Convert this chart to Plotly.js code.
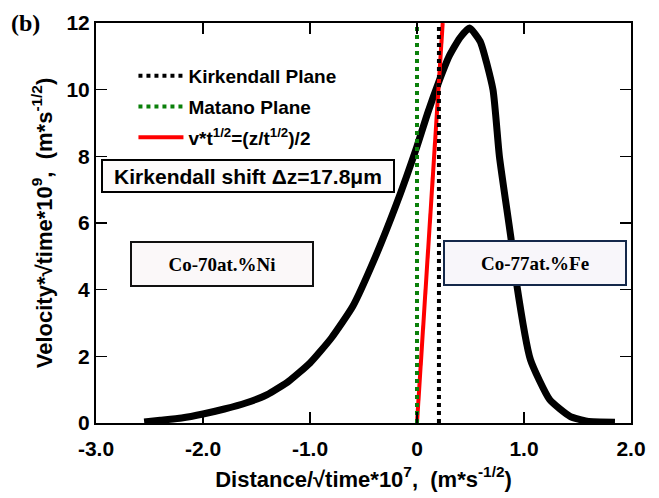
<!DOCTYPE html>
<html>
<head>
<meta charset="utf-8">
<script src="https://cdn.plot.ly/plotly-3.0.1.min.js"></script>
<style>html,body{margin:0;padding:0;background:#fff;}#chart{width:659px;height:498px;}</style>
</head>
<body>
<div id="chart"></div>
<script>
// Velocity curve (Distance/sqrt(time)*1e7 vs Velocity*sqrt(time)*1e9)
const curveX = [-2.55, -2.4, -2.2, -2.0, -1.8, -1.6, -1.4, -1.2, -1.0, -0.8, -0.6, -0.4, -0.2, 0.0, 0.1, 0.2, 0.3, 0.4, 0.49, 0.59, 0.71, 0.77, 0.88, 0.93, 1.06, 1.24, 1.43, 1.59, 1.85];
const curveY = [0.03, 0.08, 0.15, 0.27, 0.42, 0.6, 0.85, 1.25, 1.8, 2.55, 3.5, 4.9, 6.5, 8.3, 9.3, 10.2, 11.0, 11.55, 11.85, 11.45, 10.0, 8.0, 5.5, 4.2, 1.9, 0.7, 0.2, 0.05, 0.02];
// Planes
const kirkendallX = [0.205, 0.205];
const kirkendallY = [0, 12];
const matanoX = [0, 0];
const matanoY = [0, 12];
// v*t^1/2 = (z/t^1/2)/2 line
const halfLineX = [0, 0.24];
const halfLineY = [0, 12];
// Axis ticks
const xTickVals = [-3, -2, -1, 0, 1, 2];
const xTickText = ['-3.0', '-2.0', '-1.0', '0', '1.0', '2.0'];
const yTickVals = [0, 2, 4, 6, 8, 10, 12];
// Labels
const legendNames = ['Kirkendall Plane', 'Matano Plane', 'v*t<sup>1/2</sup>=(z/t<sup>1/2</sup>)/2'];
const shiftLabel = 'Kirkendall shift \u0394z=17.8\u03bcm';
const leftAlloy = 'Co-70at.%Ni';
const rightAlloy = 'Co-77at.%Fe';

const sans = 'Liberation Sans, Arial, sans-serif';
const serif = 'Liberation Serif, Times New Roman, serif';

const traces = [
  {x: curveX, y: curveY, mode: 'lines', line: {color: '#000', width: 7, shape: 'spline', smoothing: 0.5}, showlegend: false, hoverinfo: 'skip'},
  {x: halfLineX, y: halfLineY, mode: 'lines', name: legendNames[2], legendgroup: 'c', legendrank: 3,
   line: {color: '#ff0000', width: 4}},
  {x: matanoX, y: matanoY, mode: 'lines', name: legendNames[1], legendgroup: 'b', legendrank: 2,
   line: {color: '#0a800a', width: 4, dash: 'dot'}},
  {x: kirkendallX, y: kirkendallY, mode: 'lines', name: legendNames[0], legendgroup: 'a', legendrank: 1,
   line: {color: '#000', width: 4, dash: 'dot'}}
];

const layout = {
  width: 659, height: 498,
  margin: {l: 96, r: 28, t: 23, b: 75},
  paper_bgcolor: '#fff', plot_bgcolor: '#fff',
  font: {family: sans, color: '#000', size: 20, weight: 'bold'},
  showlegend: true,
  legend: {x: 0.07, y: 0.915, xanchor: 'left', yanchor: 'top', bgcolor: 'rgba(0,0,0,0)',
           font: {family: sans, size: 19, weight: 'bold', color: '#000'},
           itemwidth: 45, tracegroupgap: 3, traceorder: 'grouped'},
  xaxis: {range: [-3, 2], tickvals: xTickVals, ticktext: xTickText, ticks: 'inside', ticklen: 11, tickwidth: 1.5,
          tickcolor: '#000', showline: true, linewidth: 2, linecolor: '#000', mirror: 'ticks',
          showgrid: false, zeroline: false, tickfont: {family: sans, size: 21, weight: 'bold'}, ticklabelstandoff: 6,
          title: {text: 'Distance/\u221Atime*10<sup>7</sup>,  (m*s<sup>-1/2</sup>)', font: {family: sans, size: 22, weight: 'bold'}, standoff: 12}},
  yaxis: {range: [0, 12], tickvals: yTickVals, ticks: 'inside', ticklen: 11, tickwidth: 1.5,
          tickcolor: '#000', showline: true, linewidth: 2, linecolor: '#000', mirror: 'ticks',
          showgrid: false, zeroline: false, tickfont: {family: sans, size: 21, weight: 'bold'},
          title: {text: 'Velocity*\u221Atime*10<sup>9</sup>,  (m*s<sup>-1/2</sup>)', font: {family: sans, size: 22, weight: 'bold'}, standoff: 8}},
  annotations: [
    {xref: 'paper', yref: 'paper', x: -0.162, y: 1.0, xanchor: 'left', yanchor: 'middle', showarrow: false,
     text: '(b)', font: {family: serif, size: 24, weight: 'bold'}},
    {xref: 'paper', yref: 'paper', x: 0.009, y: 0.6175, xanchor: 'left', yanchor: 'middle', showarrow: false,
     text: shiftLabel, font: {family: sans, size: 21, weight: 'bold'}, bgcolor: '#fdfbfb',
     bordercolor: '#000', borderwidth: 2, borderpad: 0, width: 290, height: 30},
    {xref: 'paper', yref: 'paper', x: 0.063, y: 0.3975, xanchor: 'left', yanchor: 'middle', showarrow: false,
     text: leftAlloy, font: {family: serif, size: 19, weight: 'bold'}, bgcolor: '#fbf8f9',
     bordercolor: '#111', borderwidth: 2, borderpad: 0, width: 180, height: 42},
    {xref: 'paper', yref: 'paper', x: 0.649, y: 0.4, xanchor: 'left', yanchor: 'middle', showarrow: false,
     text: rightAlloy, font: {family: serif, size: 19, weight: 'bold'}, bgcolor: '#f8f6fa',
     bordercolor: '#15284a', borderwidth: 2, borderpad: 0, width: 180, height: 42}
  ]
};

Plotly.newPlot('chart', traces, layout, {displayModeBar: false, staticPlot: true});
</script>
</body>
</html>
